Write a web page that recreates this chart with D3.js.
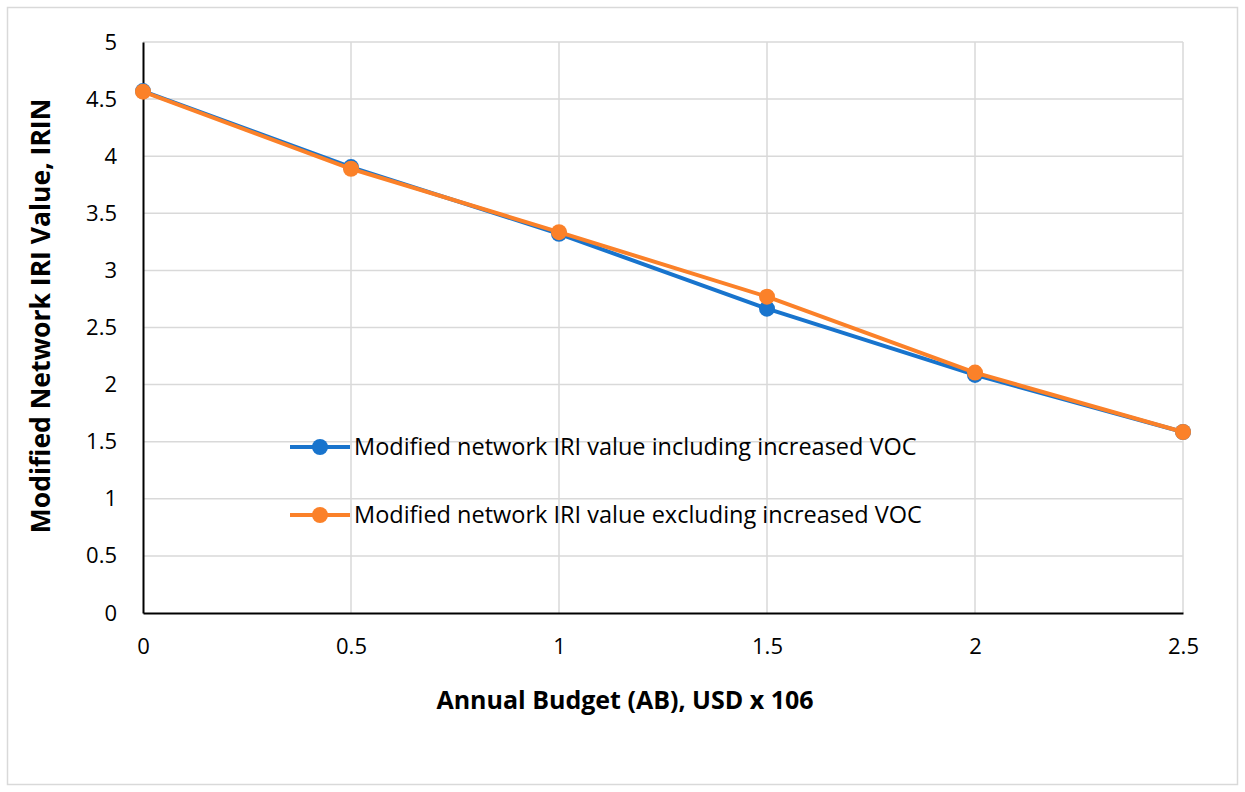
<!DOCTYPE html>
<html>
<head>
<meta charset="utf-8">
<script src="https://cdn.jsdelivr.net/npm/d3@7"></script>
<style>
  body { margin: 0; background: #fff; }
  svg { font-family: "Open Sans", "Noto Sans", sans-serif; }
</style>
</head>
<body>
<div id="chart"></div>
<script>
// Dati
const budgets = [0, 0.5, 1, 1.5, 2, 2.5];
const iriIncluding = [4.57, 3.905, 3.32, 2.665, 2.085, 1.585];
const iriExcluding = [4.565, 3.89, 3.335, 2.77, 2.105, 1.585];
const xTicks = [0, 0.5, 1, 1.5, 2, 2.5];
const yTicks = [0, 0.5, 1, 1.5, 2, 2.5, 3, 3.5, 4, 4.5, 5];
const seriesNames = [
  'Modified network IRI value including increased VOC',
  'Modified network IRI value excluding increased VOC'
];
const seriesColors = ['#1874cd', '#fb8129'];

const width = 1245, height = 792;
const margin = { top: 42, right: 62, bottom: 179, left: 143 };
const fontFamily = '"Open Sans", "Noto Sans", sans-serif';

const svg = d3.select('#chart').append('svg')
  .attr('width', width)
  .attr('height', height);

// Bordo esterno
svg.append('rect')
  .attr('x', 7.5).attr('y', 7.5)
  .attr('width', 1230).attr('height', 777)
  .attr('fill', '#fff')
  .attr('stroke', '#d9d9d9')
  .attr('stroke-width', 1.5);

const x = d3.scaleLinear().domain([0, 2.5]).range([margin.left, width - margin.right]);
const y = d3.scaleLinear().domain([0, 5]).range([height - margin.bottom, margin.top]);

// Griglia
svg.append('g')
  .selectAll('line.h')
  .data(yTicks.filter(d => d > 0))
  .enter().append('line')
  .attr('x1', x(0)).attr('x2', x(2.5))
  .attr('y1', d => y(d)).attr('y2', d => y(d))
  .attr('stroke', '#d9d9d9').attr('stroke-width', 1.5);

svg.append('g')
  .selectAll('line.v')
  .data(xTicks.filter(d => d > 0))
  .enter().append('line')
  .attr('x1', d => x(d)).attr('x2', d => x(d))
  .attr('y1', y(0)).attr('y2', y(5))
  .attr('stroke', '#d9d9d9').attr('stroke-width', 1.5);

// Assi
const xAxis = svg.append('g')
  .attr('transform', `translate(0,${y(0)})`)
  .call(d3.axisBottom(x).tickValues(xTicks).tickSize(0).tickPadding(25).tickFormat(d3.format('')));
xAxis.attr('font-family', fontFamily).attr('font-size', 22);
xAxis.select('.domain').attr('stroke', '#000').attr('stroke-width', 2);
xAxis.selectAll('text').attr('fill', '#000');

const yAxis = svg.append('g')
  .attr('transform', `translate(${x(0)},0)`)
  .call(d3.axisLeft(y).tickValues(yTicks).tickSize(0).tickPadding(26).tickFormat(d3.format('')));
yAxis.attr('font-family', fontFamily).attr('font-size', 22);
yAxis.select('.domain').attr('stroke', '#000').attr('stroke-width', 2);
yAxis.selectAll('text').attr('fill', '#000');

// Titoli assi
svg.append('text')
  .attr('x', 625)
  .attr('y', 709)
  .attr('text-anchor', 'middle')
  .attr('font-size', '25px')
  .attr('font-weight', 'bold')
  .text('Annual Budget (AB), USD x 106');

svg.append('text')
  .attr('transform', 'translate(50, 316) rotate(-90)')
  .attr('text-anchor', 'middle')
  .attr('font-size', '26.5px')
  .attr('font-weight', 'bold')
  .text('Modified Network IRI Value, IRIN');

// Serie
const series = [iriIncluding, iriExcluding];
const line = d3.line()
  .x((d, i) => x(budgets[i]))
  .y(d => y(d));

series.forEach((vals, s) => {
  const g = svg.append('g');
  g.append('path')
    .datum(vals)
    .attr('d', line)
    .attr('fill', 'none')
    .attr('stroke', seriesColors[s])
    .attr('stroke-width', 4)
    .attr('stroke-linejoin', 'round');
  g.selectAll('circle')
    .data(vals)
    .enter().append('circle')
    .attr('cx', (d, i) => x(budgets[i]))
    .attr('cy', d => y(d))
    .attr('r', 8)
    .attr('fill', seriesColors[s]);
});

// Legenda
const legend = svg.append('g').attr('transform', 'translate(290, 447)');
seriesNames.forEach((name, i) => {
  const item = legend.append('g').attr('transform', `translate(0, ${i * 68})`);
  item.append('line')
    .attr('x1', 0).attr('x2', 60)
    .attr('stroke', seriesColors[i])
    .attr('stroke-width', 4);
  item.append('circle')
    .attr('cx', 30).attr('r', 8)
    .attr('fill', seriesColors[i]);
  item.append('text')
    .attr('x', 64)
    .attr('dy', '0.35em')
    .attr('font-size', '23.5px')
    .text(name);
});
</script>
</body>
</html>
